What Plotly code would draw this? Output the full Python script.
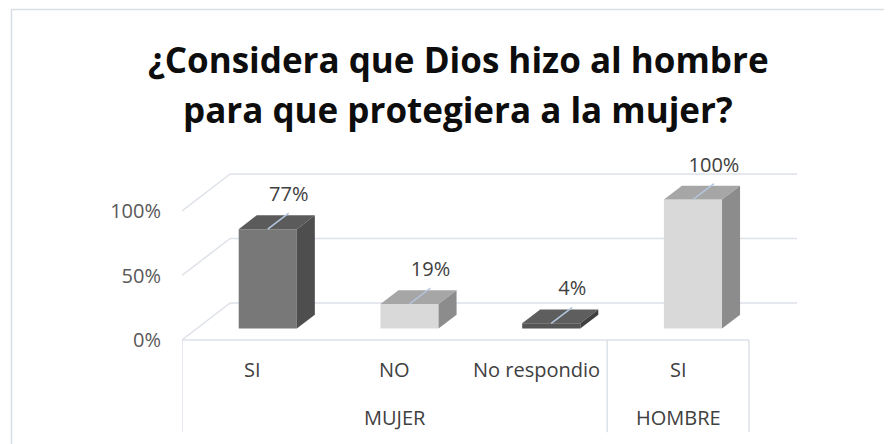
import plotly.graph_objects as go

# ---------------- data ----------------
groups = ["MUJER", "MUJER", "MUJER", "HOMBRE"]
answers = ["SI", "NO", "No respondio", "SI"]
values = [77, 19, 4, 100]
value_labels = ["77%", "19%", "4%", "100%"]
y_ticks = [0, 50, 100]
y_tick_labels = ["0%", "50%", "100%"]
title_lines = ["¿Considera que Dios hizo al hombre", "para que protegiera a la mujer?"]

front_colors = ["#787878", "#d9d9d9", "#555555", "#d9d9d9"]
top_colors = ["#5b5b5b", "#a6a6a6", "#5e5e5e", "#a6a6a6"]
side_colors = ["#4e4e4e", "#8c8c8c", "#404040", "#8c8c8c"]

# ---------------- geometry (3-D look) ----------------
OFF = 8                             # page body margin in the browser
FIG_W, FIG_H = 892 - OFF, 444 - OFF
PLOT_L, PLOT_R = 182 - OFF, 797 - OFF
Y0_PX, PX_PER_UNIT_Y = 340 - OFF, 1.29
PLOT_T, PLOT_B = 150 - OFF, 444 - OFF
n = len(values)
DX = 0.339      # floor depth in x units
DY = 28.7       # floor depth in y units
F0 = 0.31       # where bars start in the depth
DEPTH = 0.375   # bar depth as fraction of floor depth
W = 0.41        # bar width
B = F0 * DY     # base of the bar front face

x_range = [-0.5, n - 0.5 + DX]
y_range = [-(PLOT_B - Y0_PX) / PX_PER_UNIT_Y, (Y0_PX - PLOT_T) / PX_PER_UNIT_Y]

grid_color = "#dde1e8"
fnt = "Open Sans, Lato, sans-serif"

fig = go.Figure()

# front faces
xc = [i + F0 * DX for i in range(n)]
fig.add_trace(go.Bar(
    x=xc, y=values, base=B, width=W,
    marker=dict(color=front_colors, line=dict(width=0)),
    hoverinfo="skip", showlegend=False,
))

# top and side faces
ddx, ddy = DEPTH * DX, DEPTH * DY
for i, v in enumerate(values):
    T = B + v
    xl, xr = xc[i] - W / 2, xc[i] + W / 2
    fig.add_trace(go.Scatter(
        x=[xl, xr, xr + ddx, xl + ddx, xl],
        y=[T, T, T + ddy, T + ddy, T],
        fill="toself", fillcolor=top_colors[i], mode="lines",
        line=dict(width=0, color=top_colors[i]), hoverinfo="skip", showlegend=False,
    ))
    fig.add_trace(go.Scatter(
        x=[xr, xr, xr + ddx, xr + ddx, xr],
        y=[B, T, T + ddy, B + ddy, B],
        fill="toself", fillcolor=side_colors[i], mode="lines",
        line=dict(width=0, color=side_colors[i]), hoverinfo="skip", showlegend=False,
    ))

# leader lines and data labels
LX, LY = 0.148, 12.4
for i, v in enumerate(values):
    T = B + v
    fig.add_trace(go.Scatter(
        x=[xc[i], xc[i] + LX], y=[T, T + LY], mode="lines",
        line=dict(color="#b4c7e0", width=1.5), hoverinfo="skip", showlegend=False,
    ))
fig.add_trace(go.Scatter(
    x=[c + LX for c in xc], y=[B + v + 25.6 for v in values],
    mode="text", text=value_labels,
    textfont=dict(family=fnt, size=20, color="#404040"),
    hoverinfo="skip", showlegend=False,
))

shapes = []
# back wall gridlines with left diagonals
for t in y_ticks:
    shapes.append(dict(type="line", xref="x", yref="y", x0=-0.5, y0=t, x1=-0.5 + DX, y1=t + DY,
                       line=dict(color=grid_color, width=1.5), layer="below"))
    shapes.append(dict(type="line", xref="x", yref="y", x0=-0.5 + DX, y0=t + DY, x1=x_range[1], y1=t + DY,
                       line=dict(color=grid_color, width=1.5), layer="below"))
# front floor (category axis line)
shapes.append(dict(type="line", xref="x", yref="y", x0=-0.5, y0=0, x1=n - 0.5, y1=0,
                   line=dict(color=grid_color, width=1.5), layer="below"))
# group dividers
bounds = [-0.5]
for i in range(1, n):
    if groups[i] != groups[i - 1]:
        bounds.append(i - 0.5)
bounds.append(n - 0.5)
for bx in bounds:
    shapes.append(dict(type="line", xref="x", yref="y", x0=bx, y0=0, x1=bx, y1=-71.5,
                       line=dict(color=grid_color, width=1.5), layer="below"))
# chart border
shapes.append(dict(type="rect", xref="paper", yref="paper",
                   x0=(11.5 - OFF) / FIG_W, x1=1.05, y0=-0.05, y1=1 - (9.5 - OFF) / FIG_H,
                   line=dict(color="#d9dde4", width=1.5), layer="below"))

annotations = []
for i, a in enumerate(answers):
    annotations.append(dict(x=i, y=-22.5, xref="x", yref="y", text=a, showarrow=False,
                            font=dict(family=fnt, size=20, color="#404040")))
for k in range(1, len(bounds)):
    s, e = bounds[k - 1] + 0.5, bounds[k] - 0.5
    annotations.append(dict(x=(s + e) / 2, y=-59.7, xref="x", yref="y", text=groups[int(s)],
                            showarrow=False, font=dict(family=fnt, size=20, color="#404040")))
for line_txt, cy in zip(title_lines, [60, 109]):
    annotations.append(dict(x=(458 - OFF) / FIG_W, y=1 - (cy - OFF) / FIG_H, xref="paper", yref="paper",
                            text=line_txt, showarrow=False, xanchor="center", yanchor="middle",
                            font=dict(family=fnt, size=35, color="#0d0d0d", weight="bold")))

fig.update_layout(
    width=FIG_W, height=FIG_H,
    margin=dict(l=0, r=0, t=0, b=0),
    paper_bgcolor="white", plot_bgcolor="white",
    showlegend=False,
    xaxis=dict(domain=[PLOT_L / FIG_W, PLOT_R / FIG_W], range=x_range, showgrid=False,
               zeroline=False, showticklabels=False, showline=False, fixedrange=True),
    yaxis=dict(domain=[0, (FIG_H - PLOT_T) / FIG_H], range=y_range, showgrid=False,
               zeroline=False, showline=False, tickvals=y_ticks, ticktext=y_tick_labels,
               ticks="", ticklabelstandoff=20,
               tickfont=dict(family=fnt, size=20, color="#595959")),
    shapes=shapes, annotations=annotations,
)

fig.write_html("out.html")
